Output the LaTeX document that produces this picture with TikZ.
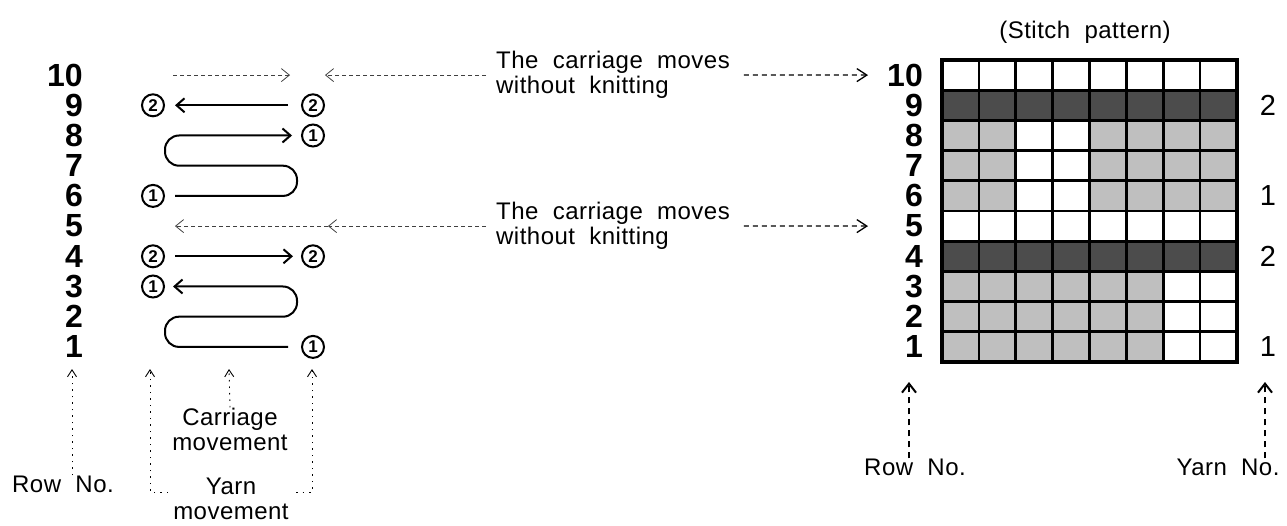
\documentclass[tikz,border=0pt]{standalone}
\usepackage{fontspec}
\setmainfont{Liberation Sans}
\newfontfamily\lblfont[WordSpace=2,LetterSpace=2]{Liberation Sans}
\usetikzlibrary{arrows.meta}

\begin{document}
\begin{tikzpicture}[
    x=1pt, y=-1pt,
    every node/.style={inner sep=1pt},
    rowno/.style={font=\fontsize{32}{32}\selectfont\bfseries, anchor=east},
    yarnno/.style={font=\fontsize{29}{29}\selectfont},
    lbl/.style={font=\lblfont\fontsize{24}{25}\selectfont, align=center, inner sep=0pt},
    yarnmark/.style={draw, circle, line width=2pt, minimum size=22pt, inner sep=0pt, font=\fontsize{17}{17}\selectfont\bfseries},
    yarn/.style={line width=2pt, -{Straight Barb[length=8pt,width=14pt]}},
    idle/.style={line width=0.8pt, black!75, dash pattern=on 4pt off 3pt, -{Straight Barb[length=8pt,width=13pt]}},
    tonum/.style={line width=1.3pt, dash pattern=on 5pt off 4pt, -{Straight Barb[length=10pt,width=13pt]}},
    dotup/.style={line width=0.9pt, dash pattern=on 1.5pt off 5pt, -{Straight Barb[length=7pt,width=9pt]}},
    dashup/.style={line width=2pt, dash pattern=on 6pt off 5pt, -{Straight Barb[length=9pt,width=14pt]}}
  ]
    \useasboundingbox (0,0) rectangle (1287,526);

    \foreach \r in {1,...,10} {
      \node[rowno] (L\r) at (84,{60+(10.5-\r)*30.2}) {\r};
      \node[rowno] (R\r) at (924,{60+(10.5-\r)*30.2}) {\r};
    }

    \node[yarnmark] (Y9l) at (153,105.3) {2};
    \node[yarnmark] (Y9r) at (313,105.3) {2};
    \node[yarnmark] (Y8r) at (313,135.5) {1};
    \node[yarnmark] (Y6l) at (153,195.9) {1};
    \node[yarnmark] (Y4l) at (153,256.3) {2};
    \node[yarnmark] (Y4r) at (313,256.3) {2};
    \node[yarnmark] (Y3l) at (153,286.5) {1};
    \node[yarnmark] (Y1r) at (313,346.9) {1};

    \coordinate (tl) at (165,0);
    \coordinate (tr) at (297,0);
    \draw[yarn, shorten <=13pt, shorten >=10pt] (Y9r) -- (Y9l);
    \draw[yarn, shorten <=10pt, shorten >=8pt] (Y4l) -- (Y4r);
    \draw[yarn, rounded corners=14pt] ([xshift=10pt]Y6l.east) -- (tr |- Y6l) -- (tr |- L7) -- (tl |- L7) -- (tl |- Y8r) -- ([xshift=-9pt]Y8r.west);
    \draw[yarn, rounded corners=14pt] ([xshift=-13pt]Y1r.west) -- (tl |- Y1r) -- (tl |- L2) -- (tr |- L2) -- (tr |- Y3l) -- ([xshift=8pt]Y3l.east);

    \node[lbl, align=left, anchor=west] (T1) at (496,75.1) {The carriage moves\\without knitting};
    \node[lbl, align=left, anchor=west] (T2) at (496,226.1) {The carriage moves\\without knitting};

    \coordinate (i1) at (173,75.1);
    \coordinate (i2) at (290,75.1);
    \coordinate (i3) at (325,75.1);
    \coordinate (i4) at (328,226.1);
    \coordinate (i5) at (175,226.1);
    \draw[idle] (i1) -- (i2);
    \draw[idle, shorten <=10pt] (T1.west) -- (i3);
    \draw[idle, shorten <=10pt] (T2.west) -- (i4);
    \draw[idle] (i4) -- (i5);
    \draw[tonum, shorten <=14pt, shorten >=18pt] (T1.east) -- (R10.west);
    \draw[tonum, shorten <=14pt, shorten >=18pt] (T2.east) -- (R5.west -| R10.west);

    \begin{scope}[shift={(942,60)}, x=36.875pt, y=-30.2pt]
      \fill[black!70] (0,1) rectangle (8,2) (0,6) rectangle (8,7);
      \fill[black!25] (0,2) rectangle (2,5) (4,2) rectangle (8,5) (0,7) rectangle (6,10);
      \foreach \c in {1,...,7} \draw[line width=2.7pt] (\c,0) -- (\c,10);
      \foreach \k in {1,...,9} \draw[line width=2.7pt] (0,\k) -- (8,\k);
      \draw[line width=3.8pt] (0,0) rectangle (8,10);
    \end{scope}

    \node[lbl] (SP) at (1085,32) {(Stitch pattern)};
    \node[yarnno] (N9) at (1268,105.3) {2};
    \node[yarnno] (N6) at (1268,195.9) {1};
    \node[yarnno] (N4) at (1268,256.3) {2};
    \node[yarnno] (N1) at (1268,346.9) {1};

    \node[lbl] (RowL) at (63,484) {Row No.};
    \node[lbl] (Carr) at (230,429) {Carriage\\movement};
    \node[lbl] (Yarn) at (231,499) {Yarn\\movement};
    \coordinate (u1) at (72,369);
    \coordinate (u2) at (150,369);
    \coordinate (u3) at (229,369);
    \coordinate (u4) at (312,369);
    \coordinate (b1) at (168,492);
    \coordinate (b2) at (296,492);
    \draw[dotup] (RowL.north -| u1) -- (u1);
    \draw[dotup] (Carr.north) -- (u3);
    \draw[dotup] (b1) -- (b1 -| u2) -- (u2);
    \draw[dotup] (b2) -- (b2 -| u4) -- (u4);

    \node[lbl] (RowR) at (915,467) {Row No.};
    \node[lbl] (YarnR) at (1228,467) {Yarn No.};
    \coordinate (u5) at (909,382);
    \coordinate (u6) at (1265,382);
    \draw[dashup] (RowR.north -| u5) -- (u5);
    \draw[dashup] (YarnR.north -| u6) -- (u6);
  \end{tikzpicture}
\end{document}
